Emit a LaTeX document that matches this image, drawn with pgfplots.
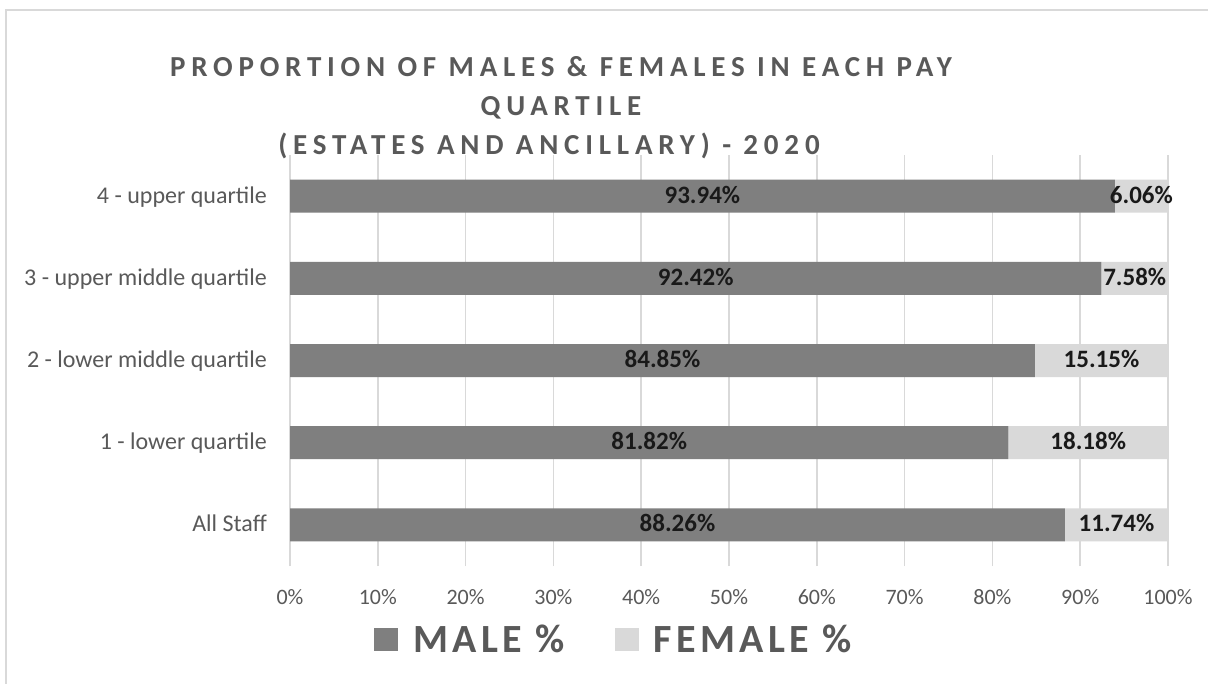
\documentclass[border=0pt]{standalone}
\usepackage{fontspec}
\setmainfont{Carlito}
\newfontfamily\titlefont[LetterSpace=20]{Carlito}
\newfontfamily\legendfont[LetterSpace=11]{Carlito}
\usepackage{pgfplots}
\usepackage{pgfplotstable}
\pgfplotsset{compat=1.18}
\definecolor{male}{HTML}{7F7F7F}
\definecolor{female}{HTML}{D9D9D9}
\definecolor{gridc}{HTML}{D9D9D9}
\definecolor{txt}{HTML}{595959}

\pgfplotstableread{
idx male female
0 88.26 11.74
1 81.82 18.18
2 84.85 15.15
3 92.42 7.58
4 93.94 6.06
}\datatable

\begin{document}
\begin{tikzpicture}
\useasboundingbox (0,0) rectangle (1208bp,-684bp);
\fill[white] (0,0) rectangle (1208bp,-684bp);
\draw[gridc, line width=2bp] (6bp,-700bp) -- (6bp,-10bp) -- (1220bp,-10bp);

\pgfplotsset{base/.style={
  scale only axis, width=878bp, height=411bp,
  at={(290bp,-566bp)}, anchor=south west,
  xmin=0, xmax=100, ymin=-0.5, ymax=4.5,
  /pgf/number format/assume math mode=true,
}}
\begin{axis}[base,
  xbar stacked, bar width=33bp,
  axis line style={draw=none},
  major tick length=0pt,
  xmajorgrids, grid style={gridc, line width=1.5bp},
  xtick={0,10,...,100},
  xticklabel={\pgfmathprintnumber{\tick}\%},
  ytick={0,1,2,3,4},
  yticklabels={All Staff, 1 - lower quartile, 2 - lower middle quartile, 3 - upper middle quartile, 4 - upper quartile},
  xticklabel style={font=\fontsize{22bp}{26bp}\selectfont, text=txt, anchor=base, inner sep=0pt, yshift=-38bp},
  yticklabel style={font=\fontsize{24bp}{28bp}\selectfont, text=txt, anchor=base east, inner sep=0pt, xshift=-23bp, yshift=-7bp},
  legend style={draw=none, fill=none, at={(rel axis cs:0.0957,-0.1776)}, anchor=west,
    legend columns=2, font=\fontsize{40bp}{46bp}\legendfont\bfseries, text=txt,
    /tikz/every odd column/.append style={column sep=15bp},
    /tikz/every even column/.append style={column sep=50bp},
    inner sep=0pt, nodes={inner sep=0pt}},
  legend image code/.code={\fill[#1,draw=none] (0bp,-11.5bp) rectangle (24bp,11.5bp);},
]
\addplot[fill=male, draw=none] table[x=male, y=idx] {\datatable};
\addplot[fill=female, draw=none] table[x=female, y=idx] {\datatable};
\legend{MALE \%, FEMALE \%}
\end{axis}

\begin{axis}[base, hide axis]
\addplot[draw=none, mark=none, point meta=\thisrow{male},
  nodes near coords={\pgfmathprintnumber[fixed,fixed zerofill,precision=2]{\pgfplotspointmeta}\%},
  every node near coord/.style={anchor=base, inner sep=0pt, yshift=-7bp, font=\fontsize{25bp}{29bp}\selectfont\bfseries, text=black!90}]
  table[x expr=\thisrow{male}/2, y=idx] {\datatable};
\addplot[draw=none, mark=none, point meta=\thisrow{female},
  nodes near coords={\pgfmathprintnumber[fixed,fixed zerofill,precision=2]{\pgfplotspointmeta}\%},
  every node near coord/.style={anchor=base, inner sep=0pt, yshift=-7bp, font=\fontsize{25bp}{29bp}\selectfont\bfseries, text=black!90}]
  table[x expr=\thisrow{male}+\thisrow{female}/2, y=idx] {\datatable};
\end{axis}

\node[anchor=base, text=txt, font=\fontsize{29bp}{33bp}\titlefont\bfseries] at (561bp,-76bp) {PROPORTION OF MALES \& FEMALES IN EACH PAY};
\node[anchor=base, text=txt, font=\fontsize{29bp}{33bp}\titlefont\bfseries] at (561bp,-115bp) {QUARTILE};
\node[anchor=base, text=txt, font=\fontsize{29bp}{33bp}\titlefont\bfseries] at (549bp,-154bp) {(ESTATES AND ANCILLARY) - 2020};
\end{tikzpicture}
\end{document}
